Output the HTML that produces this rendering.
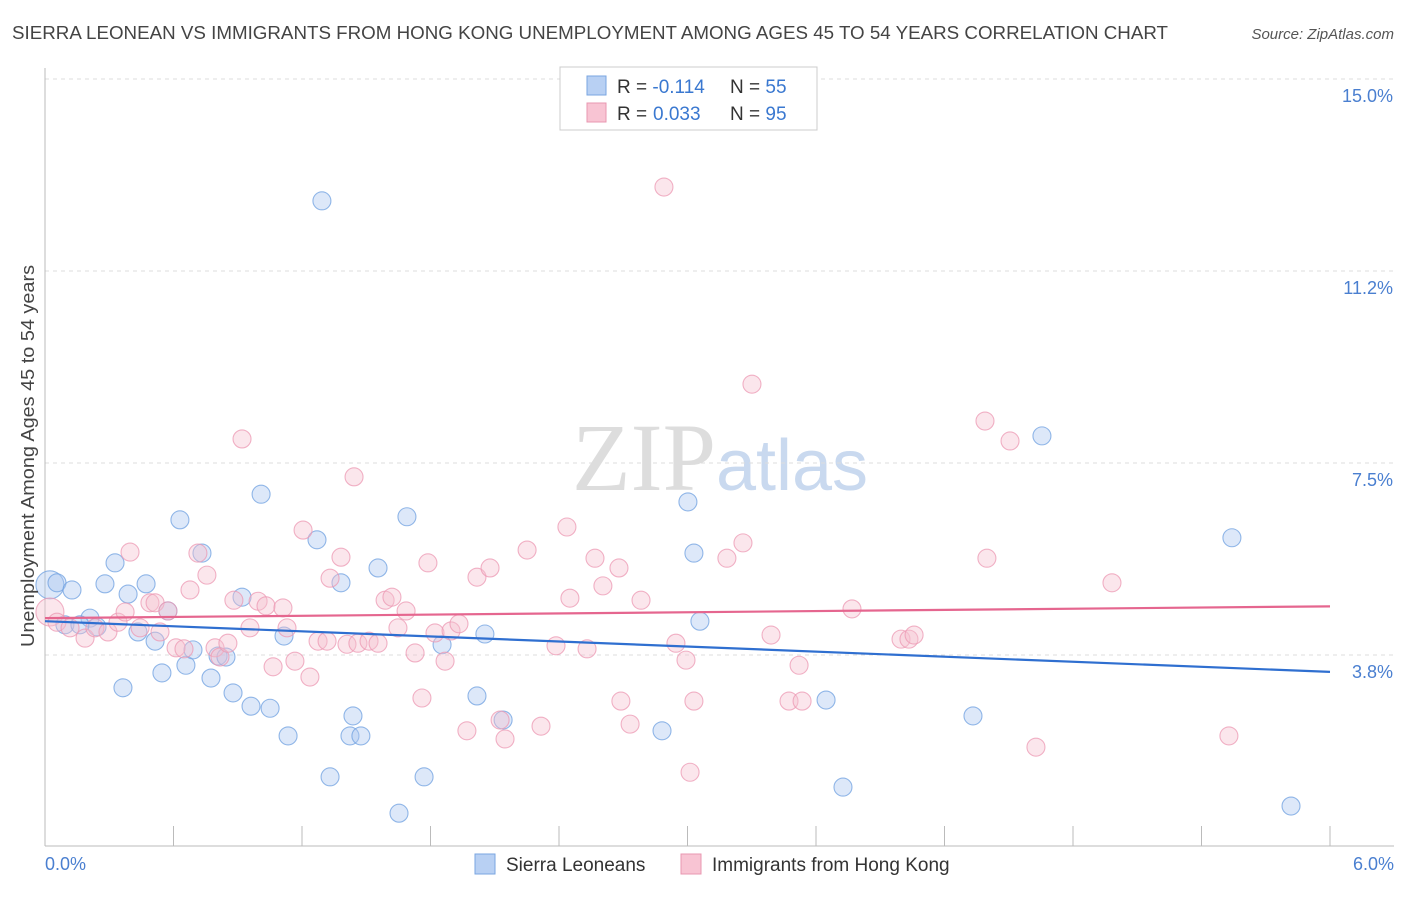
<!DOCTYPE html>
<html><head><meta charset="utf-8"><style>
body{margin:0;background:#fff;font-family:"Liberation Sans",sans-serif;}
</style></head><body>
<svg id="chart" width="1406" height="892" xmlns="http://www.w3.org/2000/svg" font-family="Liberation Sans, sans-serif">
<text x="12" y="39" font-size="18" fill="#444" textLength="1156" lengthAdjust="spacingAndGlyphs">SIERRA LEONEAN VS IMMIGRANTS FROM HONG KONG UNEMPLOYMENT AMONG AGES 45 TO 54 YEARS CORRELATION CHART</text>
<text x="1394" y="39" font-size="15" fill="#555" text-anchor="end" font-style="italic">Source: ZipAtlas.com</text>
<text x="720" y="490" font-size="96" text-anchor="middle" fill="#ddd" font-family="Liberation Serif, serif">ZIP<tspan fill="#c9d9ef" font-family="Liberation Sans, sans-serif" font-size="72">atlas</tspan></text>
<g id="grid"></g><g id="axes"></g><g id="pts"></g><g id="lines"></g>
<text transform="translate(34,456) rotate(-90)" font-size="18" fill="#444" text-anchor="middle" textLength="382" lengthAdjust="spacingAndGlyphs">Unemployment Among Ages 45 to 54 years</text>
<text x="45" y="870" font-size="18" fill="#4a7fd0">0.0%</text>
<text x="1394" y="870" font-size="18" fill="#4a7fd0" text-anchor="end">6.0%</text>
<g>
<rect x="560" y="67" width="257" height="63" fill="#fff" stroke="#ccc"/>
<rect x="587" y="76" width="19" height="19" fill="#b8d0f3" stroke="#7aa6e0"/>
<rect x="587" y="103" width="19" height="19" fill="#f8c4d3" stroke="#e897b0"/>
<text x="617" y="93" font-size="19" fill="#333">R = <tspan fill="#3a78d0">-0.114</tspan></text>
<text x="730" y="93" font-size="19" fill="#333">N = <tspan fill="#3a78d0">55</tspan></text>
<text x="617" y="120" font-size="19" fill="#333">R = <tspan fill="#3a78d0" x="653">0.033</tspan></text>
<text x="730" y="120" font-size="19" fill="#333">N = <tspan fill="#3a78d0">95</tspan></text>
</g>
<g>
<rect x="475" y="854" width="20" height="20" fill="#b8d0f3" stroke="#7aa6e0"/>
<text x="506" y="871" font-size="19" fill="#333">Sierra Leoneans</text>
<rect x="681" y="854" width="20" height="20" fill="#f8c4d3" stroke="#e897b0"/>
<text x="712" y="871" font-size="19" fill="#333">Immigrants from Hong Kong</text>
</g>
</svg>
<script>
const yTicks=[15,11.25,7.5,3.75];
const yTickLabels=["15.0%","11.2%","7.5%","3.8%"];
const xTicks=[0,0.6,1.2,1.8,2.4,3,3.6,4.2,4.8,5.4,6];
const bluePx=[[50,585],[57,583],[72,590],[65,625],[90,618],[97,627],[105,584],[115,563],[123,688],[128,594],[138,632],[146,584],[155,641],[162,673],[168,611],[180,520],[186,665],[193,650],[202,553],[211,678],[218,656],[226,657],[233,693],[242,597],[251,706],[261,494],[270,708],[284,636],[288,736],[317,540],[322,201],[330,777],[341,583],[353,716],[350,736],[361,736],[378,568],[399,813],[407,517],[424,777],[442,645],[477,696],[485,634],[503,720],[662,731],[688,502],[694,553],[700,621],[826,700],[843,787],[973,716],[1042,436],[1232,538],[1291,806],[80,625]];
const pinkPx=[[50,612],[57,622],[70,628],[85,638],[95,628],[108,632],[118,622],[125,612],[130,552],[140,628],[150,603],[155,603],[160,632],[168,611],[176,648],[184,649],[190,590],[198,553],[207,575],[215,648],[220,657],[228,643],[234,600],[242,439],[250,628],[258,601],[266,606],[273,667],[283,608],[287,628],[295,661],[303,530],[310,677],[318,641],[327,641],[330,578],[341,557],[347,644],[354,477],[358,643],[369,641],[378,643],[385,600],[392,597],[398,628],[406,611],[415,653],[422,698],[428,563],[435,633],[445,661],[451,631],[459,624],[467,731],[477,577],[490,568],[505,739],[500,720],[527,550],[541,726],[556,646],[567,527],[570,598],[587,649],[595,558],[603,586],[619,568],[621,701],[630,724],[641,600],[664,187],[676,643],[686,660],[690,772],[694,701],[727,558],[743,543],[752,384],[771,635],[789,701],[799,665],[802,701],[852,609],[901,639],[909,639],[914,635],[985,421],[987,558],[1010,441],[1036,747],[1112,583],[1229,736]];
const blueX=bluePx.map(p=>+((p[0]-45)/1285*6).toFixed(3));
const blueY=bluePx.map(p=>+((847-p[1])/51.2).toFixed(2));
const pinkX=pinkPx.map(p=>+((p[0]-45)/1285*6).toFixed(3));
const pinkY=pinkPx.map(p=>+((847-p[1])/51.2).toFixed(2));
const blueTrend=[4.41,3.42];
const pinkTrend=[4.47,4.70];
const X=v=>45+v/6*1285, Y=v=>847-v*51.2;
const NS="http://www.w3.org/2000/svg";
function mk(tag,attrs,parent){const e=document.createElementNS(NS,tag);for(const k in attrs)e.setAttribute(k,attrs[k]);document.getElementById(parent).appendChild(e);return e;}
yTicks.forEach((t,i)=>{
 const l=mk('line',{x1:45,x2:1394,y1:Y(t),y2:Y(t),stroke:'#ddd','stroke-dasharray':'4,4'},'grid');
 
 
 const tx=mk('text',{x:1393,y:Y(t)+23,'font-size':18,fill:'#4a7fd0','text-anchor':'end'},'grid');
 tx.textContent=yTickLabels[i];
 
 
});
const ax=mk('line',{x1:45,x2:45,y1:68,y2:846,stroke:'#bbb'},'axes');


const bx=mk('line',{x1:45,x2:1394,y1:846,y2:846,stroke:'#bbb'},'axes');


xTicks.forEach(t=>{const l=mk('line',{x1:X(t),x2:X(t),y1:826,y2:846,stroke:'#bbb'},'axes');
 
 });
function pts(xs,ys,fill,stroke,name){xs.forEach((x,i)=>{
 const r=(i===0)?14:9;
 const c=mk('circle',{cx:X(x),cy:Y(ys[i]),r:r,fill:fill,'fill-opacity':0.4,stroke:stroke,'stroke-opacity':0.75,'stroke-width':1.1},'pts');
 
 });}
pts(blueX,blueY,'#a9c6ef','#6fa0e0','sierra-leonean-point');
pts(pinkX,pinkY,'#f6c0d0','#ec98b3','hong-kong-point');
const b=mk('line',{x1:X(0),x2:X(6),y1:Y(blueTrend[0]),y2:Y(blueTrend[1]),stroke:'#2f6fd0','stroke-width':2.2},'lines');


const p=mk('line',{x1:X(0),x2:X(6),y1:Y(pinkTrend[0]),y2:Y(pinkTrend[1]),stroke:'#e5668f','stroke-width':2.2},'lines');


</script>
</body></html>
